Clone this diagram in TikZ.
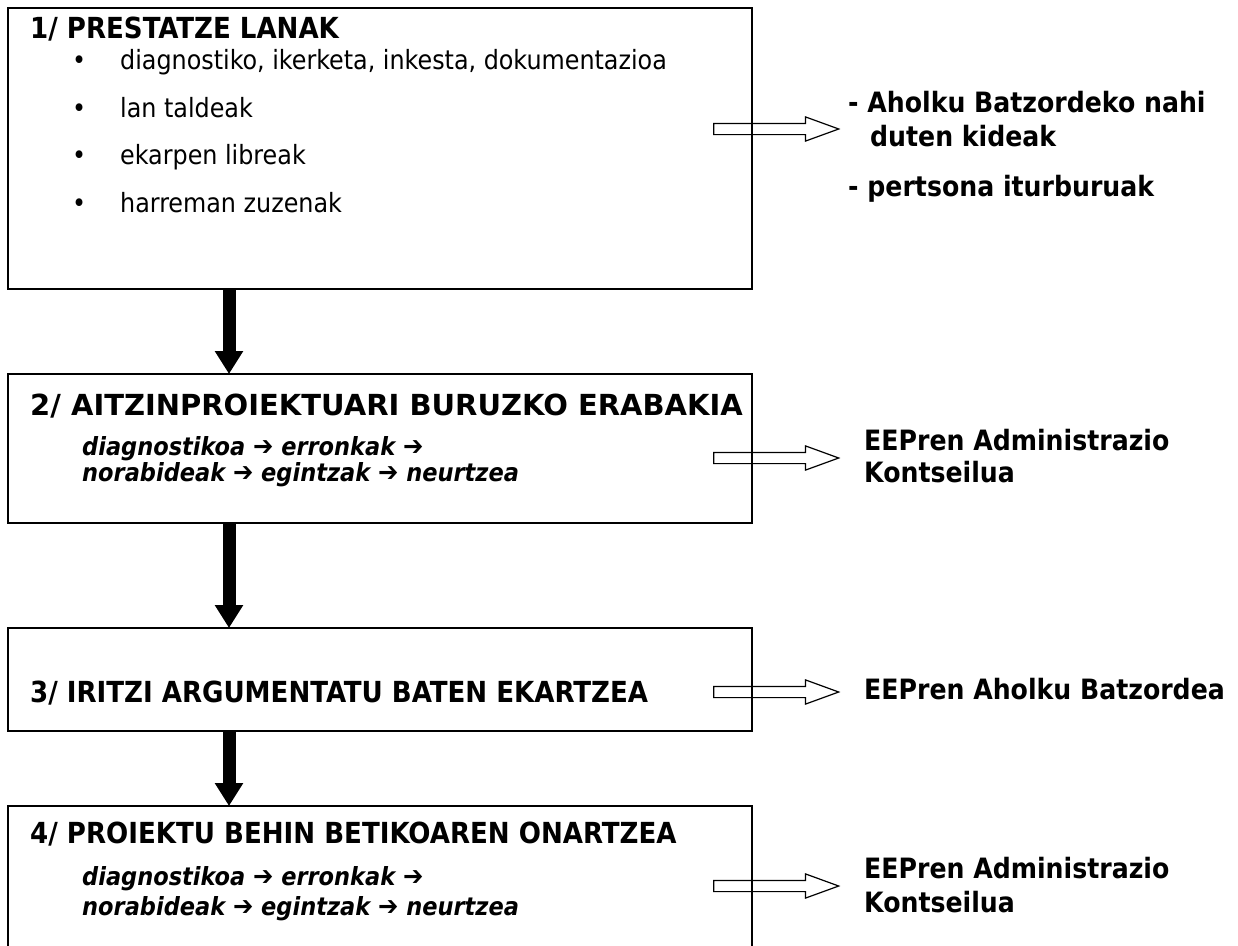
\documentclass[tikz,border=0pt]{standalone}
\usepackage{fontspec}
\setmainfont{DejaVu Sans Condensed}
\newfontfamily\widefont{DejaVu Sans}
\newcommand\nxt{{\upshape\fontsize{27}{24}\selectfont ➔}}
\usepackage{pgf,tikz}
\usetikzlibrary{arrows.meta,shapes.arrows}

\begin{document}
\begin{tikzpicture}[line join=miter,x=1pt,y=-1pt,
  box/.style={draw,line width=2pt,inner sep=0pt,outer sep=0pt,minimum width=744pt,anchor=north west},
  ttl/.style={anchor=base west,inner sep=0pt,font=\fontsize{29}{34}\selectfont\bfseries},
  itm/.style={anchor=base west,inner sep=0pt,font=\fontsize{26.5}{30}\selectfont},
  ital/.style={anchor=base west,align=left,inner sep=0pt,font=\bfseries\itshape},
  side/.style={anchor=base west,align=left,inner sep=0pt,font=\fontsize{28}{34}\selectfont\bfseries},
  downarrow/.style={line width=13pt,-{Triangle[width=27pt,length=23pt]}},
  hollow/.style={single arrow,draw,line width=1.2pt,minimum height=125pt,minimum width=0pt,
    inner xsep=0pt,inner ysep=5pt,single arrow head extend=6.5pt,single arrow tip angle=40}]
\useasboundingbox (0,0) rectangle (1238,945);
\clip (0,0) rectangle (1238,945);
% boxes
\node[box,minimum height=281pt] (b1) at (8,8) {};
\node[box,minimum height=149pt] (b2) at (8,374) {};
\node[box,minimum height=103pt] (b3) at (8,628) {};
\node[box,minimum height=200pt] (b4) at (8,806) {};
% black arrows
\coordinate (ax) at (229,0);
\draw[downarrow] (b1.south -| ax) -- (b2.north -| ax);
\draw[downarrow] (b2.south -| ax) -- (b3.north -| ax);
\draw[downarrow] (b3.south -| ax) -- (b4.north -| ax);
% box 1
\node[ttl] (t1) at (30,38) {1/ PRESTATZE LANAK};
\foreach \y/\txt [count=\i] in {69/{diagnostiko, ikerketa, inkesta, dokumentazioa},
    117/{lan taldeak},164/{ekarpen libreak},212/{harreman zuzenak}}{
  \node[itm] (pb\i) at (72,\y) {•};
  \node[itm] (p\i) at (120,\y) {\txt};
}
% box 2 (base = last line)
\node[ttl,font=\fontsize{29}{34}\selectfont\widefont\bfseries] (t2) at (30,415) {2/ AITZINPROIEKTUARI BURUZKO ERABAKIA};
\node[ital,font=\fontsize{25}{24}\selectfont\bfseries\itshape] (i2) at (82,481)
  {diagnostikoa \nxt{} erronkak \nxt\\ norabideak \nxt{} egintzak \nxt{} neurtzea};
% box 3
\node[ttl] (t3) at (30,702) {3/ IRITZI ARGUMENTATU BATEN EKARTZEA};
% box 4
\node[ttl] (t4) at (30,843) {4/ PROIEKTU BEHIN BETIKOAREN ONARTZEA};
\node[ital,font=\fontsize{25}{30}\selectfont\bfseries\itshape] (i4) at (82,915)
  {diagnostikoa \nxt{} erronkak \nxt\\ norabideak \nxt{} egintzak \nxt{} neurtzea};
% hollow arrows
\node[hollow] (h1) at (768.5,129) {};
\node[hollow] (h2) at (768.5,458) {};
\node[hollow] (h3) at (768.5,692) {};
\node[hollow] (h4) at (768.5,886) {};
% side texts
\node[side] (s1a) at (848,112) {- Aholku Batzordeko nahi};
\node[side] (s1b) at (870,146) {duten kideak};
\node[side] (s1c) at (848,196) {- pertsona iturburuak};
\node[side,font=\fontsize{28}{32}\selectfont\bfseries] (s2) at (864,482) {EEPren Administrazio\\Kontseilua};
\node[side] (s3) at (864,699) {EEPren Aholku Batzordea};
\node[side] (s4) at (864,912) {EEPren Administrazio\\Kontseilua};
\end{tikzpicture}
\end{document}
